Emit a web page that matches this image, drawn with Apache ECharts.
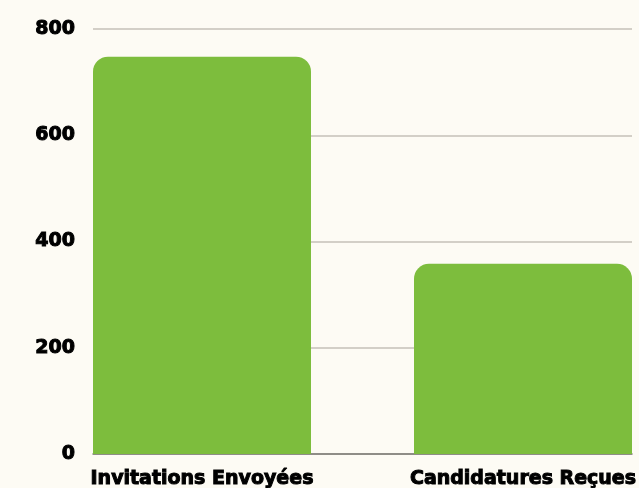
<!DOCTYPE html>
<html>
<head>
  <meta charset="utf-8">
  <title>Invitations / Candidatures</title>
  <script src="https://cdn.jsdelivr.net/npm/echarts@6.0.0/dist/echarts.min.js"></script>
  <style>
    html, body { margin: 0; padding: 0; background: #fdfbf4; }
    #chart { width: 639px; height: 488px; }
  </style>
</head>
<body>
  <div id="chart"></div>
  <script>
    // données
    const categories = ['Invitations Envoyées', 'Candidatures Reçues'];
    const values = [748, 358];
    const yTicks = [0, 200, 400, 600, 800];

    const font = '"DejaVu Sans", Inter, sans-serif';
    let myChart = echarts.init(document.getElementById('chart'));
    let option = {
      backgroundColor: '#fdfbf4',
      grid: [
        // grille des lignes horizontales
        { left: 93, right: 7, top: 29, bottom: 34 },
        // grille des barres (plus large, pour coller les barres aux bords)
        { left: 41.5, width: 642, top: 29, bottom: 34, outerBoundsMode: 'none' }
      ],
      xAxis: [
        {
          gridIndex: 0,
          type: 'category',
          data: categories,
          axisLine: { show: true, lineStyle: { color: '#7a7873', width: 1.5 } },
          axisTick: { show: false },
          axisLabel: { show: false }
        },
        {
          gridIndex: 1,
          type: 'category',
          data: categories,
          axisLine: { show: false },
          axisTick: { show: false },
          axisLabel: {
            margin: 16,
            color: '#000',
            fontFamily: font,
            fontWeight: 'bold',
            fontSize: 19,
            textBorderColor: '#000',
            textBorderWidth: 1
          }
        }
      ],
      yAxis: [
        {
          gridIndex: 0,
          type: 'value',
          min: yTicks[0],
          max: yTicks[yTicks.length - 1],
          interval: 200,
          axisLine: { show: false },
          axisTick: { show: false },
          splitLine: { lineStyle: { color: '#c4c0b9', width: 1.5 } },
          axisLabel: {
            margin: 18,
            color: '#000',
            fontFamily: font,
            fontWeight: 'bold',
            fontSize: 19,
            textBorderColor: '#000',
            textBorderWidth: 1
          }
        },
        {
          gridIndex: 1,
          type: 'value',
          min: yTicks[0],
          max: yTicks[yTicks.length - 1],
          interval: 200,
          show: false,
          splitLine: { show: false }
        }
      ],
      series: [
        {
          type: 'bar',
          xAxisIndex: 1,
          yAxisIndex: 1,
          barWidth: 218,
          data: values,
          itemStyle: {
            color: '#7dbd3d',
            borderRadius: [15, 15, 0, 0]
          }
        }
      ]
    };
    myChart.setOption(option);
  </script>
</body>
</html>
